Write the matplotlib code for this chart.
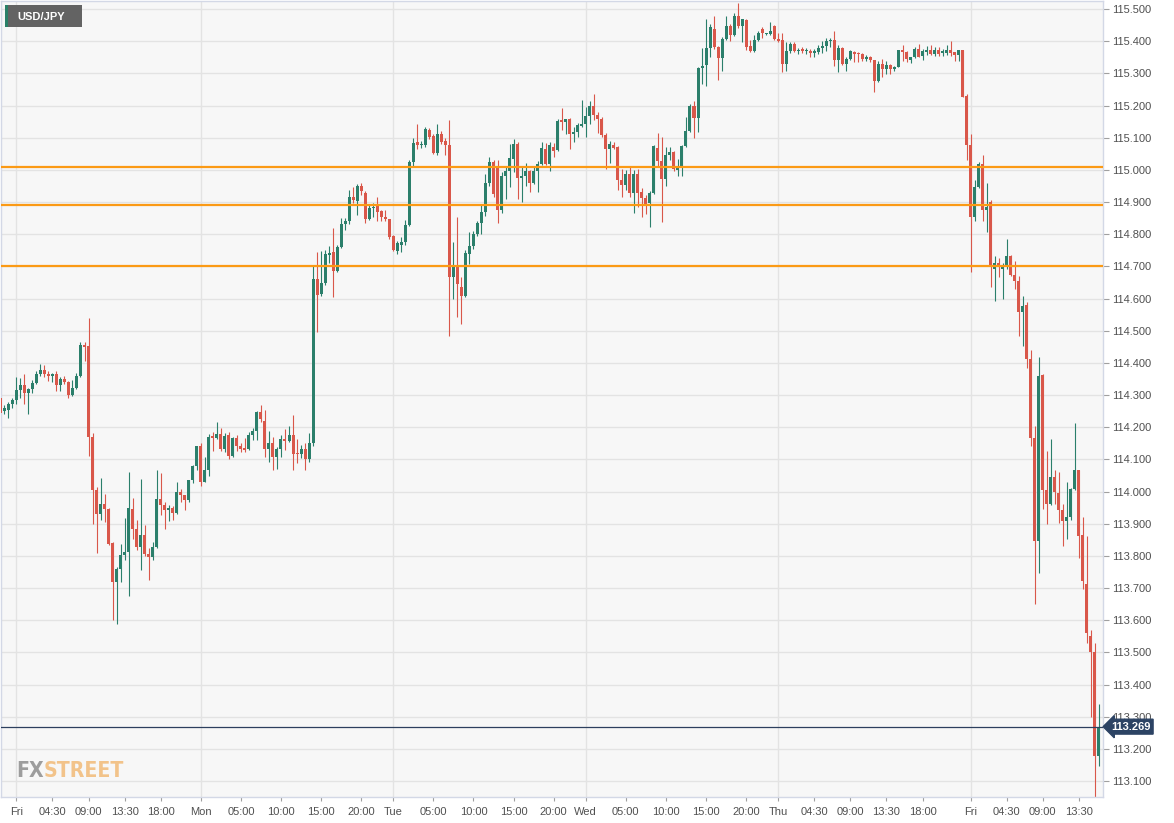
import numpy as np
import matplotlib
matplotlib.use("Agg")
import matplotlib.pyplot as plt
from matplotlib.patches import Rectangle

plt.rcParams['font.family'] = ['Liberation Sans', 'DejaVu Sans']

# USD/JPY 30-minute candles
opens = [114.29, 114.25, 114.252, 114.273, 114.283, 114.316, 114.33, 114.305, 114.319, 114.337,
         114.366, 114.378, 114.364, 114.36, 114.366, 114.33, 114.35, 114.342, 114.30, 114.322,
         114.36, 114.455, 114.453, 114.171, 114.004, 113.931, 113.962, 113.947, 113.84, 113.719,
         113.76, 113.802, 113.812, 113.947, 113.882, 113.826, 113.866, 113.805, 113.795, 113.826,
         113.978, 113.957, 113.944, 113.95, 113.933, 113.998, 113.99, 113.973, 114.035, 114.078,
         114.14, 114.031, 114.067, 114.174, 114.165, 114.178, 114.132, 114.176, 114.11, 114.165,
         114.141, 114.136, 114.132, 114.176, 114.188, 114.246, 114.22, 114.132, 114.15, 114.106,
         114.131, 114.163, 114.158, 114.176, 114.12, 114.117, 114.131, 114.10, 114.15, 114.661,
         114.613, 114.648, 114.736, 114.744, 114.686, 114.759, 114.831, 114.842, 114.916, 114.904,
         114.951, 114.928, 114.847, 114.881, 114.894, 114.871, 114.852, 114.847, 114.793, 114.749,
         114.765, 114.775, 114.829, 115.026, 115.086, 115.076, 115.076, 115.124, 115.104, 115.052,
         115.112, 115.091, 115.076, 114.666, 114.697, 114.635, 114.609, 114.739, 114.763, 114.801,
         114.834, 114.868, 114.96, 115.026, 115.005, 114.876, 114.982, 114.995, 115.034, 115.081,
         114.975, 114.982, 114.998, 114.959, 114.998, 115.017, 115.065, 115.017, 115.07, 115.062,
         115.155, 115.148, 115.158, 115.112, 115.117, 115.136, 115.143, 115.166, 115.20, 115.172,
         115.159, 115.107, 115.065, 115.076, 115.07, 114.967, 114.954, 114.988, 114.928, 114.986,
         114.931, 114.913, 114.896, 114.928, 115.068, 115.029, 114.972, 115.047, 115.055, 115.0,
         115.008, 115.074, 115.12, 115.20, 115.161, 115.317, 115.327, 115.379, 115.438, 115.381,
         115.348, 115.407, 115.448, 115.419, 115.479, 115.448, 115.466, 115.386, 115.371, 115.404,
         115.438, 115.422, 115.422, 115.448, 115.407, 115.404, 115.329, 115.371, 115.391, 115.37,
         115.376, 115.37, 115.371, 115.363, 115.365, 115.379, 115.386, 115.40, 115.404, 115.342,
         115.379, 115.329, 115.345, 115.366, 115.362, 115.36, 115.345, 115.352, 115.342, 115.275,
         115.329, 115.314, 115.327, 115.314, 115.321, 115.373, 115.365, 115.342, 115.35, 115.376,
         115.355, 115.365, 115.373, 115.36, 115.373, 115.362, 115.363, 115.373, 115.365, 115.358,
         115.373, 115.231, 115.076, 114.853, 114.946, 115.017, 114.874, 114.9, 114.691, 114.709,
         114.691, 114.698, 114.732, 114.672, 114.653, 114.559, 114.579, 114.412, 114.166, 113.845,
         114.361, 114.004, 113.962, 114.046, 113.996, 113.944, 113.908, 113.921, 114.007, 114.066,
         113.865, 113.713, 113.551, 113.502, 113.177]
highs = [114.30, 114.27, 114.278, 114.291, 114.357, 114.353, 114.366, 114.322, 114.347, 114.374,
         114.396, 114.394, 114.374, 114.367, 114.374, 114.355, 114.36, 114.345, 114.347, 114.37,
         114.466, 114.464, 114.539, 114.182, 114.014, 114.042, 113.993, 113.95, 113.843, 113.766,
         113.838, 113.919, 114.06, 113.981, 113.911, 114.04, 113.895, 113.823, 113.843, 114.068,
         114.058, 113.967, 113.957, 113.955, 114.03, 114.008, 113.99, 114.037, 114.084, 114.14,
         114.15, 114.106, 114.179, 114.184, 114.215, 114.198, 114.181, 114.184, 114.17, 114.176,
         114.15, 114.165, 114.184, 114.196, 114.25, 114.269, 114.253, 114.188, 114.17, 114.139,
         114.176, 114.193, 114.204, 114.238, 114.162, 114.145, 114.15, 114.181, 114.70, 114.746,
         114.748, 114.751, 114.764, 114.819, 114.767, 114.85, 114.85, 114.936, 114.947, 114.957,
         114.959, 114.933, 114.89, 114.897, 114.916, 114.876, 114.876, 114.847, 114.796, 114.78,
         114.79, 114.844, 115.03, 115.098, 115.143, 115.09, 115.132, 115.13, 115.112, 115.143,
         115.122, 115.10, 115.155, 114.775, 114.853, 114.666, 114.75, 114.806, 114.81, 114.84,
         114.894, 114.988, 115.041, 115.03, 115.031, 114.993, 115.008, 115.081, 115.096, 115.086,
         115.013, 115.021, 115.001, 115.011, 115.027, 115.086, 115.084, 115.086, 115.083, 115.158,
         115.192, 115.158, 115.161, 115.134, 115.146, 115.218, 115.197, 115.215, 115.236, 115.179,
         115.164, 115.114, 115.091, 115.086, 115.074, 115.003, 115.0, 115.013, 115.0, 115.003,
         114.944, 114.923, 114.934, 115.076, 115.115, 115.101, 115.07, 115.07, 115.06, 115.034,
         115.076, 115.164, 115.205, 115.215, 115.319, 115.379, 115.469, 115.453, 115.479, 115.386,
         115.414, 115.479, 115.453, 115.487, 115.518, 115.469, 115.469, 115.404, 115.42, 115.431,
         115.445, 115.427, 115.459, 115.451, 115.427, 115.427, 115.396, 115.396, 115.396, 115.38,
         115.381, 115.38, 115.376, 115.376, 115.389, 115.402, 115.41, 115.41, 115.431, 115.389,
         115.381, 115.352, 115.373, 115.369, 115.365, 115.362, 115.358, 115.355, 115.342, 115.34,
         115.345, 115.34, 115.329, 115.324, 115.373, 115.389, 115.369, 115.352, 115.381, 115.391,
         115.376, 115.386, 115.389, 115.383, 115.381, 115.376, 115.389, 115.40, 115.365, 115.373,
         115.373, 115.236, 115.112, 114.969, 115.024, 115.045, 114.959, 114.905, 114.732, 114.725,
         114.709, 114.785, 114.734, 114.717, 114.669, 114.607, 114.589, 114.44, 114.205, 114.419,
         114.366, 114.125, 114.162, 114.066, 114.06, 113.962, 114.03, 114.01, 114.213, 114.068,
         113.921, 113.862, 113.57, 113.528, 113.339]
lows = [114.24, 114.24, 114.229, 114.26, 114.273, 114.29, 114.273, 114.241, 114.307, 114.335,
        114.36, 114.357, 114.345, 114.34, 114.314, 114.314, 114.335, 114.29, 114.298, 114.32,
        114.357, 114.405, 114.111, 113.898, 113.81, 113.913, 113.905, 113.833, 113.60, 113.588,
        113.719, 113.786, 113.675, 113.851, 113.817, 113.757, 113.80, 113.726, 113.786, 113.823,
        113.926, 113.882, 113.907, 113.913, 113.93, 113.967, 113.944, 113.967, 114.025, 114.066,
        114.017, 114.03, 114.047, 114.127, 114.162, 114.127, 114.124, 114.101, 114.108, 114.127,
        114.124, 114.122, 114.129, 114.16, 114.16, 114.215, 114.106, 114.093, 114.067, 114.069,
        114.106, 114.129, 114.155, 114.067, 114.088, 114.103, 114.067, 114.093, 114.14, 114.497,
        114.608, 114.642, 114.71, 114.606, 114.684, 114.757, 114.812, 114.832, 114.897, 114.861,
        114.921, 114.835, 114.845, 114.855, 114.84, 114.84, 114.84, 114.786, 114.748, 114.739,
        114.745, 114.765, 114.825, 115.01, 115.065, 115.068, 115.07, 115.095, 115.048, 115.045,
        115.08, 115.045, 114.485, 114.599, 114.542, 114.521, 114.605, 114.708, 114.755, 114.795,
        114.801, 114.858, 114.951, 114.915, 114.834, 114.866, 114.91, 114.946, 114.993, 114.91,
        114.899, 114.951, 114.93, 114.957, 114.93, 115.014, 115.014, 114.998, 115.039, 115.06,
        115.124, 115.112, 115.065, 115.088, 115.102, 115.132, 115.102, 115.143, 115.155, 115.115,
        115.102, 115.003, 115.021, 115.065, 114.938, 114.915, 114.936, 114.915, 114.865, 114.884,
        114.855, 114.863, 114.822, 114.925, 115.008, 114.837, 114.951, 115.031, 114.998, 114.982,
        114.982, 115.07, 115.117, 115.099, 115.117, 115.267, 115.262, 115.35, 115.376, 115.28,
        115.308, 115.404, 115.402, 115.417, 115.441, 115.396, 115.373, 115.365, 115.365, 115.40,
        115.41, 115.419, 115.419, 115.404, 115.396, 115.303, 115.307, 115.362, 115.365, 115.36,
        115.362, 115.36, 115.352, 115.35, 115.36, 115.362, 115.369, 115.383, 115.324, 115.303,
        115.327, 115.306, 115.342, 115.334, 115.334, 115.34, 115.34, 115.334, 115.241, 115.272,
        115.288, 115.298, 115.298, 115.308, 115.319, 115.337, 115.334, 115.331, 115.348, 115.35,
        115.342, 115.358, 115.358, 115.355, 115.355, 115.355, 115.358, 115.355, 115.337, 115.337,
        115.226, 115.031, 114.682, 114.841, 114.944, 114.841, 114.806, 114.635, 114.592, 114.666,
        114.598, 114.691, 114.669, 114.63, 114.485, 114.451, 114.383, 114.143, 113.651, 113.747,
        113.947, 113.899, 113.959, 113.962, 113.902, 113.831, 113.853, 113.913, 114.004, 113.792,
        113.698, 113.528, 113.298, 113.049, 113.147]
closes = [114.245, 114.26, 114.273, 114.283, 114.316, 114.33, 114.305, 114.319, 114.337, 114.366,
          114.379, 114.364, 114.36, 114.364, 114.33, 114.35, 114.34, 114.30, 114.322, 114.36,
          114.455, 114.45, 114.171, 114.006, 113.931, 113.962, 113.947, 113.838, 113.719, 113.76,
          113.802, 113.812, 113.949, 113.882, 113.826, 113.866, 113.805, 113.795, 113.826, 113.978,
          113.957, 113.944, 113.95, 113.933, 113.998, 113.99, 113.973, 114.035, 114.078, 114.14,
          114.03, 114.067, 114.17, 114.165, 114.178, 114.132, 114.174, 114.11, 114.165, 114.141,
          114.132, 114.129, 114.176, 114.188, 114.246, 114.225, 114.132, 114.15, 114.106, 114.131,
          114.162, 114.157, 114.176, 114.117, 114.117, 114.132, 114.10, 114.15, 114.661, 114.611,
          114.648, 114.738, 114.742, 114.686, 114.759, 114.831, 114.842, 114.916, 114.907, 114.951,
          114.933, 114.847, 114.881, 114.886, 114.868, 114.853, 114.847, 114.79, 114.752, 114.772,
          114.775, 114.829, 115.026, 115.084, 115.076, 115.081, 115.127, 115.102, 115.052, 115.112,
          115.086, 115.076, 114.666, 114.697, 114.646, 114.609, 114.742, 114.763, 114.801, 114.834,
          114.868, 114.96, 115.026, 114.925, 114.874, 114.982, 114.995, 115.036, 115.081, 114.975,
          114.982, 114.998, 114.959, 114.998, 115.017, 115.068, 115.017, 115.076, 115.06, 115.153,
          115.148, 115.158, 115.112, 115.117, 115.138, 115.143, 115.166, 115.20, 115.172, 115.159,
          115.107, 115.065, 115.079, 115.068, 114.967, 114.954, 114.988, 114.928, 114.988, 114.928,
          114.913, 114.892, 114.928, 115.074, 115.029, 114.972, 115.047, 115.055, 115.003, 115.005,
          115.074, 115.12, 115.20, 115.161, 115.317, 115.323, 115.379, 115.443, 115.381, 115.348,
          115.407, 115.448, 115.419, 115.479, 115.448, 115.469, 115.381, 115.371, 115.404, 115.424,
          115.424, 115.426, 115.431, 115.407, 115.40, 115.329, 115.371, 115.391, 115.371, 115.373,
          115.371, 115.372, 115.362, 115.369, 115.379, 115.386, 115.40, 115.404, 115.342, 115.379,
          115.329, 115.345, 115.369, 115.36, 115.36, 115.345, 115.352, 115.342, 115.275, 115.329,
          115.314, 115.327, 115.314, 115.321, 115.373, 115.365, 115.345, 115.35, 115.376, 115.352,
          115.369, 115.373, 115.36, 115.373, 115.36, 115.368, 115.373, 115.362, 115.358, 115.373,
          115.228, 115.076, 114.853, 114.946, 115.019, 114.874, 114.884, 114.698, 114.709, 114.698,
          114.698, 114.732, 114.672, 114.655, 114.559, 114.576, 114.412, 114.166, 113.845, 114.358,
          114.004, 113.962, 114.046, 113.998, 113.944, 113.908, 113.921, 114.007, 114.066, 113.862,
          113.721, 113.559, 113.50, 113.177, 113.269]

# x-axis labels at candle index
xtick_pos = [4, 13, 22, 31, 40, 50, 60, 70, 80, 90, 98, 108, 118, 128, 138, 146, 156, 166,
             176, 186, 194, 203, 212, 221, 230, 242, 251, 260, 269]
xtick_labels = ['Fri', '04:30', '09:00', '13:30', '18:00', 'Mon', '05:00', '10:00', '15:00',
                '20:00', 'Tue', '05:00', '10:00', '15:00', '20:00', 'Wed', '05:00', '10:00',
                '15:00', '20:00', 'Thu', '04:30', '09:00', '13:30', '18:00', 'Fri', '04:30',
                '09:00', '13:30']
day_starts = [4, 50, 98, 146, 194, 242]

levels = [115.01, 114.89, 114.70]
last_price = 113.269
yticks = np.round(np.arange(113.1, 115.501, 0.1), 1)

green = '#2b7f6b'
red = '#d9574a'

o = np.array(opens)
h = np.array(highs)
l = np.array(lows)
c = np.array(closes)
x = np.arange(len(o))
cols = np.where(c >= o, green, red)

fig = plt.figure(figsize=(11.74, 8.23), dpi=100)
fig.patch.set_facecolor('white')
ax = fig.add_axes([1 / 1174, 26 / 823, 1102 / 1174, 796 / 823])
ax.set_facecolor('#f7f7f7')

# grid
for yv in yticks:
    ax.axhline(yv, color='#e3e3e3', lw=1, zorder=0)
for d in day_starts:
    ax.axvline(d, color='#e3e3e3', lw=1, zorder=0)

# candles
ax.vlines(x, l, h, colors=cols, linewidth=0.8, zorder=2)
body_h = np.maximum(np.abs(c - o), 0.003)
ax.bar(x, body_h, bottom=np.minimum(o, c), width=0.75, color=cols, linewidth=0, zorder=3)

# support / resistance lines
for lv in levels:
    ax.axhline(lv, color='#fb9a15', lw=1.6, zorder=4)

# last price
ax.axhline(last_price, color='#2c3f5e', lw=0.9, zorder=4)
ax.text(1.0075, last_price, '%.3f' % last_price, transform=ax.get_yaxis_transform(),
        ha='left', va='center', color='white', fontsize=8, fontweight='bold', zorder=6,
        bbox=dict(boxstyle='larrow,pad=0.22', fc='#2c4364', ec='#2c4364'), clip_on=False)

ax.set_xlim(0.175, 275.0)
ax.set_ylim(113.0503, 115.525)

ax.yaxis.tick_right()
ax.set_yticks(yticks)
ax.set_yticklabels(['%.3f' % v for v in yticks])
ax.set_xticks(xtick_pos)
ax.set_xticklabels(xtick_labels)
ax.tick_params(axis='y', length=4, width=0.8, color='#a0a0a0', pad=2.5,
               labelsize=8, labelcolor='#505050')
ax.tick_params(axis='x', length=3, width=0.8, color='#a0a0a0', pad=4,
               labelsize=8, labelcolor='#505050')
for s in ax.spines.values():
    s.set_color('#d3d8e6')
    s.set_linewidth(1)

# instrument tag
fig.patches.append(Rectangle((5 / 1174, 1 - 27 / 823), 77 / 1174, 22 / 823,
                             transform=fig.transFigure, fc='#636363', ec='none', zorder=5))
fig.patches.append(Rectangle((5 / 1174, 1 - 27 / 823), 3 / 1174, 22 / 823,
                             transform=fig.transFigure, fc='#2a8068', ec='none', zorder=6))
fig.text(17 / 1174, 1 - 16.5 / 823, 'USD/JPY', color='white', fontsize=8,
         fontweight='bold', va='center', ha='left', zorder=7)

# watermark: fit "FXSTREET" into about 108 px, STREET right after FX
logo_font = dict(fontweight='bold', fontstretch='condensed',
                 family=['Liberation Sans Narrow', 'DejaVu Sans'], va='baseline', ha='left')
renderer = fig.canvas.get_renderer()
size = 26
fx = fig.text(16 / 1174, 1 - 777 / 823, 'FX', color='#9d9d9d', fontsize=size, **logo_font)
st = fig.text(41 / 1174, 1 - 777 / 823, 'STREET', color='#f2c38a', fontsize=size, **logo_font)
for _ in range(3):
    w_fx = fx.get_window_extent(renderer).width
    w_st = st.get_window_extent(renderer).width
    size = size * 108.0 / (w_fx + w_st)
    fx.set_fontsize(size)
    st.set_fontsize(size)
w_fx = fx.get_window_extent(renderer).width
st.set_x((16 + w_fx) / 1174)

fig.savefig('out.png', dpi=100)
